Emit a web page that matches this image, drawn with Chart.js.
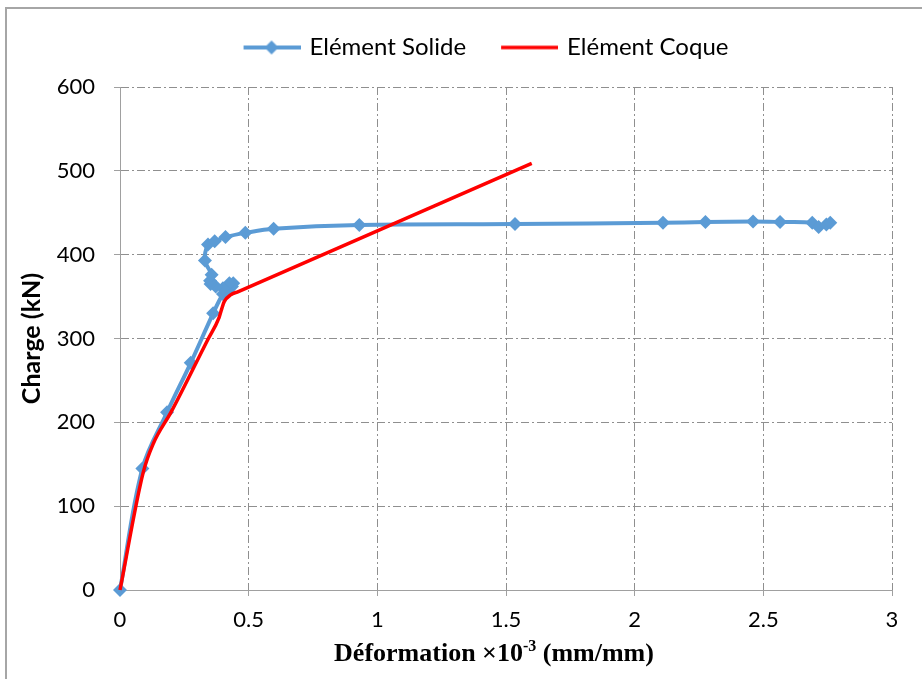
<!DOCTYPE html>
<html>
<head>
<meta charset="utf-8">
<script src="https://cdn.jsdelivr.net/npm/chart.js@4.4.1/dist/chart.umd.min.js"></script>
<style>
  html, body { margin: 0; padding: 0; background: #ffffff; }
  #wrap { width: 922px; height: 679px; }
</style>
</head>
<body>
<div id="wrap"><canvas id="chart" width="922" height="679"></canvas></div>
<script>
// Strain (x10^-3 mm/mm) and load (kN) for the solid-element model
const solidStrain = [0, 0.087, 0.183, 0.275, 0.362, 0.400, 0.418, 0.435, 0.440, 0.425, 0.400, 0.372, 0.352, 0.350, 0.356, 0.330, 0.342, 0.368, 0.410, 0.487, 0.597, 0.930, 1.535, 2.110, 2.275, 2.460, 2.565, 2.690, 2.715, 2.745, 2.760];
const solidLoad   = [0, 145, 212, 271, 330, 353, 357, 362, 366, 366, 360, 362, 365, 369, 376, 393, 412, 416, 421, 426, 431, 435.5, 436.5, 438, 439, 439.5, 439, 438, 433, 436, 438];

// Strain and load for the shell-element model
const coqueStrain = [0, 0.09, 0.13, 0.20, 0.34, 0.385, 0.395, 0.405, 0.43, 0.46, 1.60];
const coqueLoad   = [0, 140, 175, 213, 298, 325, 335, 344, 352, 356, 509];

const seriesNames = ['Elément Solide', 'Elément Coque'];
const xTickValues = [0, 0.5, 1, 1.5, 2, 2.5, 3];
const yTickValues = [0, 100, 200, 300, 400, 500, 600];
const xTitleParts = ['Déformation ×10', '-3', ' (mm/mm)'];
const yTitle = 'Charge (kN)';

const BLUE = '#5b9bd5';
const RED = '#ff0000';
const GRID = '#8f8f8f';
const AXIS = '#a0a0a0';

function pairs(xs, ys) { return xs.map((x, i) => ({ x: x, y: ys[i] })); }

// Legend swatches: a line segment, with a diamond for the marker series
function swatch(color, width, marker) {
  const c = document.createElement('canvas');
  c.width = 92; c.height = 18;
  const g = c.getContext('2d');
  g.strokeStyle = color; g.lineWidth = width;
  g.beginPath(); g.moveTo(35, 9); g.lineTo(92, 9); g.stroke();
  if (marker) {
    g.fillStyle = color;
    g.beginPath();
    g.moveTo(63, 2); g.lineTo(70, 9); g.lineTo(63, 16); g.lineTo(56, 9);
    g.closePath(); g.fill();
  }
  return c;
}
const swatches = [swatch(BLUE, 4, true), swatch(RED, 3.5, false)];

const framePlugin = {
  id: 'frame',
  beforeDraw(chart) {
    const ctx = chart.ctx;
    ctx.save();
    ctx.fillStyle = '#ffffff';
    ctx.fillRect(0, 0, chart.width, chart.height);
    ctx.fillStyle = '#a6a6a6';
    ctx.fillRect(5, 7, chart.width, 2);
    ctx.fillRect(5, 7, 2, chart.height);
    ctx.restore();
  },
  afterLayout(chart) {
    // centre the legend row above the plot
    const lg = chart.legend;
    const h = lg.bottom - lg.top;
    const cx = 470, cy = 51;
    const w = lg.right - lg.left;
    const mid = (lg.left + lg.right) / 2;
    lg.left += cx - mid; lg.right = lg.left + w;
    lg.top = cy - h / 2; lg.bottom = lg.top + h;
  },
  afterDraw(chart) {
    // x-axis title with a superscript exponent
    const ctx = chart.ctx;
    const big = 'bold 26px "Liberation Serif", "Times New Roman", serif';
    const small = 'bold 16px "Liberation Serif", "Times New Roman", serif';
    ctx.save();
    ctx.fillStyle = '#000';
    ctx.textBaseline = 'alphabetic';
    ctx.font = big; const w0 = ctx.measureText(xTitleParts[0]).width;
    ctx.font = small; const w1 = ctx.measureText(xTitleParts[1]).width;
    ctx.font = big; const w2 = ctx.measureText(xTitleParts[2]).width;
    let x = 494 - (w0 + w1 + w2) / 2;
    const base = 661;
    ctx.font = big; ctx.fillText(xTitleParts[0], x, base); x += w0;
    ctx.font = small; ctx.fillText(xTitleParts[1], x, base - 10); x += w1;
    ctx.font = big; ctx.fillText(xTitleParts[2], x, base);
    ctx.restore();
  }
};

new Chart(document.getElementById('chart'), {
  type: 'scatter',
  data: {
    datasets: [
      {
        label: seriesNames[0],
        data: pairs(solidStrain, solidLoad),
        showLine: true,
        borderColor: BLUE,
        backgroundColor: BLUE,
        borderWidth: 4,
        pointStyle: 'rectRot',
        pointRadius: 7,
        pointBorderWidth: 0,
        pointBackgroundColor: BLUE,
        tension: 0.35,
        clip: false,
        order: 1
      },
      {
        label: seriesNames[1],
        data: pairs(coqueStrain, coqueLoad),
        showLine: true,
        borderColor: RED,
        backgroundColor: RED,
        borderWidth: 3.5,
        pointRadius: 0,
        cubicInterpolationMode: 'monotone',
        clip: false,
        order: 0
      }
    ]
  },
  options: {
    responsive: false,
    animation: false,
    layout: { padding: { left: 6, right: 30, top: 50, bottom: 0 } },
    plugins: {
      tooltip: { enabled: false },
      legend: {
        position: 'top',
        align: 'center',
        labels: {
          usePointStyle: true,
          pointStyleWidth: 86,
          boxHeight: 18,
          padding: 3,
          color: '#000',
          font: { family: 'Lato', size: 24 },
          generateLabels() {
            return seriesNames.map((name, i) => ({
              text: name,
              pointStyle: swatches[i],
              fillStyle: 'transparent',
              strokeStyle: 'transparent',
              lineWidth: 0,
              hidden: false,
              datasetIndex: i,
              fontColor: '#000'
            }));
          }
        }
      }
    },
    scales: {
      x: {
        type: 'linear',
        min: 0, max: 3,
        afterBuildTicks(scale) { scale.ticks = xTickValues.map(v => ({ value: v })); },
        afterFit(scale) { scale.height = 89; },
        ticks: {
          color: '#000', font: { family: 'Lato', size: 22 }, padding: 11, maxRotation: 0,
          callback: (v) => String(v)
        },
        grid: { color: GRID, lineWidth: 1, tickLength: 6, tickColor: AXIS, tickBorderDash: [] },
        border: { color: AXIS, width: 1, dash: [8, 3, 2, 3] }
      },
      y: {
        type: 'linear',
        min: 0, max: 600,
        afterBuildTicks(scale) { scale.ticks = yTickValues.map(v => ({ value: v })); },
        afterFit(scale) { scale.width = 114; },
        ticks: { color: '#000', font: { family: 'Lato', size: 22 }, padding: 19 },
        grid: { color: GRID, lineWidth: 1, tickLength: 6, tickColor: AXIS, tickBorderDash: [] },
        border: { color: AXIS, width: 1, dash: [8, 3, 2, 3] },
        title: {
          display: true,
          text: yTitle,
          color: '#000',
          font: { family: 'Lato', size: 25, weight: 'bold' },
          padding: { top: 11, bottom: 0 }
        }
      }
    }
  },
  plugins: [framePlugin]
});
</script>
</body>
</html>
